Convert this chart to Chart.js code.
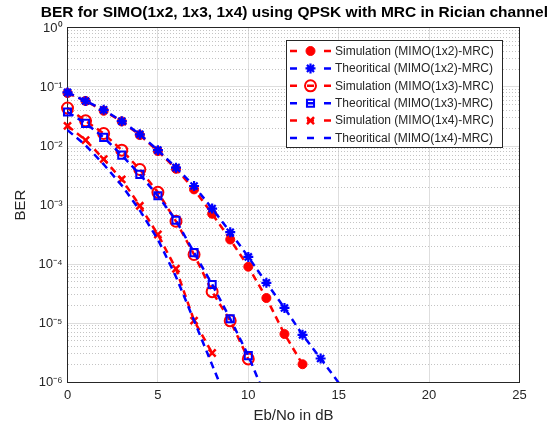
<!DOCTYPE html>
<html>
<head>
<meta charset="utf-8">
<script src="https://cdn.jsdelivr.net/npm/chart.js@4/dist/chart.umd.min.js"></script>
<style>
  html, body { margin: 0; padding: 0; background: #fff; }
</style>
</head>
<body>
<canvas id="grafico_ber" width="552" height="428"></canvas>
<script>
// Eb/No (dB) and BER
const ebnoDb = [0, 1, 2, 3, 4, 5, 6, 7, 8, 9, 10, 11, 12, 13, 14, 15]

const simMimo12 = [0.079, 0.058, 0.0395, 0.0261, 0.0153, 0.0082, 0.0041, 0.00184, 0.00071, 0.00026, 9.0e-5, 2.65e-5, 6.5e-6, 2.0e-6]
const theoMimo12 = [0.081, 0.058, 0.041, 0.0263, 0.0158, 0.0085, 0.0043, 0.0021, 0.00087, 0.000346, 0.000132, 4.8e-5, 1.8e-5, 6.3e-6, 2.5e-6, 9.7e-7]
const simMimo13 = [0.044, 0.0267, 0.0163, 0.0085, 0.0040, 0.00164, 0.00053, 0.000145, 3.4e-5, 1.09e-5, 2.46e-6]
const theoMimo13 = [0.0376, 0.0242, 0.014, 0.0070, 0.0033, 0.00143, 0.00055, 0.000156, 4.5e-5, 1.18e-5, 2.8e-6, 5.1e-7]
const simMimo14 = [0.022, 0.0126, 0.0060, 0.00272, 0.00097, 0.000316, 8.3e-5, 1.1e-5, 3.1e-6]
const theoMimo14 = [0.0186, 0.0103, 0.0049, 0.00215, 0.00081, 0.00026, 6.1e-5, 1.1e-5, 1.95e-6, 3.5e-7]

const seriesLabels = [
  'Simulation (MIMO(1x2)-MRC)',
  'Theoritical (MIMO(1x2)-MRC)',
  'Simulation (MIMO(1x3)-MRC)',
  'Theoritical (MIMO(1x3)-MRC)',
  'Simulation (MIMO(1x4)-MRC)',
  'Theoritical (MIMO(1x4)-MRC)'
]

const xTicksMax = 25
const decadeTicks = [1e-6, 1e-5, 1e-4, 1e-3, 1e-2, 1e-1, 1]
const minorSteps = [2, 3, 4, 5, 6, 7, 8, 9]

const RED = 'rgb(255,0,0)'
const BLUE = 'rgb(0,0,255)'
const AXIS = '#262626'
const yMin = 1e-6

Chart.defaults.font.family = '"Liberation Sans", Arial, sans-serif'
Chart.defaults.color = AXIS

const sup = { '-': '⁻', '0': '⁰', '1': '¹', '2': '²', '3': '³', '4': '⁴', '5': '⁵', '6': '⁶', '7': '⁷', '8': '⁸', '9': '⁹' }
function powLabel(v) {
  const e = String(Math.round(Math.log10(v)))
  return '10' + e.split('').map(c => sup[c]).join('')
}

function toPoints(vals) {
  return vals.map((v, i) => ({ x: ebnoDb[i], y: v }))
}

function makeSet(i, vals, color, mark) {
  return {
    label: seriesLabels[i],
    data: toPoints(vals),
    borderColor: color,
    borderWidth: 2.5,
    borderDash: [7, 5],
    pointStyle: mark.style,
    pointRadius: c => (c.raw && c.raw.y < yMin) ? 0 : mark.radius,
    pointBorderWidth: mark.width,
    pointBorderColor: color,
    pointBackgroundColor: mark.fill,
    fill: false,
    tension: 0,
    order: 6 - i,
    clip: { left: 10, top: 10, right: 10, bottom: 0 },
    mark: mark
  }
}

const datasets = [
  makeSet(0, simMimo12, RED, { style: 'circle', radius: 4.5, width: 1, fill: RED }),
  makeSet(1, theoMimo12, BLUE, { style: 'star', radius: 5, width: 2.2, fill: BLUE }),
  makeSet(2, simMimo13, RED, { style: 'circle', radius: 5.5, width: 2, fill: 'rgba(0,0,0,0)' }),
  makeSet(3, theoMimo13, BLUE, { style: 'rect', radius: 5, width: 2, fill: 'rgba(0,0,0,0)' }),
  makeSet(4, simMimo14, RED, { style: 'crossRot', radius: 5, width: 2.5, fill: RED }),
  makeSet(5, theoMimo14, BLUE, { style: false, radius: 0, width: 0, fill: BLUE })
]

// MATLAB style legend box inside the axes (top right)
const legendInside = {
  id: 'legendInside',
  afterDraw(chart) {
    const ctx = chart.ctx
    const a = chart.chartArea
    const w = 216, h = 107
    const x = Math.round(a.right - 18 - w) + 0.5
    const y = Math.round(a.top + 12) + 0.5
    ctx.save()
    ctx.fillStyle = '#fff'
    ctx.fillRect(x, y, w, h)
    ctx.strokeStyle = AXIS
    ctx.lineWidth = 1
    ctx.strokeRect(x, y, w, h)
    chart.data.datasets.forEach((ds, i) => {
      const ry = y + 10.5 + i * 17.4
      ctx.strokeStyle = ds.borderColor
      ctx.lineWidth = 2.5
      ctx.setLineDash([7, 10])
      ctx.beginPath()
      ctx.moveTo(x + 3.5, ry)
      ctx.lineTo(x + 44.5, ry)
      ctx.stroke()
      ctx.setLineDash([])
      const m = ds.mark
      if (m.style && Chart.helpers && Chart.helpers.drawPoint) {
        ctx.fillStyle = m.fill
        ctx.strokeStyle = ds.borderColor
        ctx.lineWidth = m.width
        Chart.helpers.drawPoint(ctx, { pointStyle: m.style, rotation: 0, radius: m.radius, borderWidth: m.width }, x + 24, ry)
      }
      ctx.fillStyle = AXIS
      ctx.font = '12px "Liberation Sans", Arial, sans-serif'
      ctx.textBaseline = 'middle'
      ctx.textAlign = 'left'
      ctx.fillText(ds.label, x + 48.5, ry + 0.5)
    })
    ctx.restore()
  }
}

const config = {
  type: 'line',
  data: { datasets },
  options: {
    responsive: false,
    animation: false,
    events: [],
    devicePixelRatio: 1,
    layout: { padding: { top: 3.4, right: 4, left: 0, bottom: 0 } },
    plugins: {
      legend: { display: false },
      tooltip: { enabled: false },
      title: {
        display: true,
        text: 'BER for SIMO(1x2, 1x3, 1x4) using QPSK with MRC in Rician channel',
        align: 'end',
        color: '#000',
        font: { size: 15.5, weight: 'bold' },
        padding: { top: 0, bottom: 6 }
      }
    },
    scales: {
      x: {
        type: 'linear',
        position: 'bottom',
        min: 0,
        max: xTicksMax,
        ticks: { stepSize: 5, padding: 6, color: AXIS, font: { size: 13 } },
        grid: { color: '#dedede', drawTicks: false },
        border: { color: AXIS, width: 1 },
        title: { display: true, text: 'Eb/No in dB', color: AXIS, font: { size: 15 }, padding: { top: 0, bottom: 3 } },
        afterFit: s => { s.height = 46 }
      },
      xt: {
        type: 'linear',
        position: 'top',
        min: 0,
        max: xTicksMax,
        ticks: { display: false },
        grid: { display: false, drawTicks: false },
        border: { color: AXIS, width: 1 },
        afterFit: s => { s.height = 0 }
      },
      y: {
        type: 'logarithmic',
        position: 'left',
        min: yMin,
        max: 1,
        afterBuildTicks: s => { s.ticks = decadeTicks.map(v => ({ value: v })) },
        ticks: { padding: 5, color: AXIS, font: { size: 13 }, callback: v => powLabel(v) },
        grid: { color: '#dedede', drawTicks: false },
        border: { color: AXIS, width: 1 },
        title: { display: true, text: 'BER', color: AXIS, font: { size: 15 }, padding: { top: 12, bottom: 0 } },
        afterFit: s => { s.width = 67.5 }
      },
      yMinor: {
        type: 'logarithmic',
        position: 'left',
        min: yMin,
        max: 1,
        afterBuildTicks: s => {
          const t = []
          decadeTicks.slice(0, -1).forEach(d => minorSteps.forEach(m => t.push({ value: m * d })))
          s.ticks = t
        },
        ticks: { display: false },
        grid: { color: '#c4c4c4', drawTicks: false },
        border: { display: false, dash: [1, 2] },
        afterFit: s => { s.width = 0 }
      },
      yr: {
        type: 'logarithmic',
        position: 'right',
        min: yMin,
        max: 1,
        ticks: { display: false },
        grid: { display: false, drawTicks: false },
        border: { color: AXIS, width: 1 },
        afterFit: s => { s.width = 28.5 }
      }
    }
  },
  plugins: [legendInside]
}

const graph = new Chart(document.getElementById('grafico_ber'), config)
</script>
</body>
</html>
